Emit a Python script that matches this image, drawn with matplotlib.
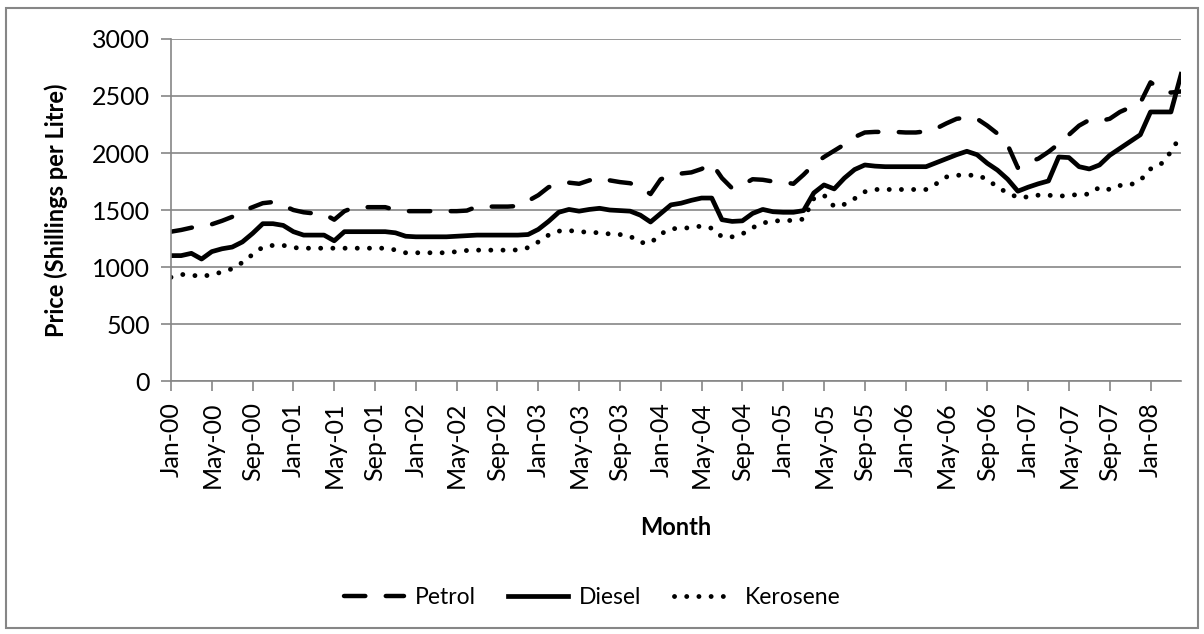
import matplotlib

matplotlib.use("Agg")

import matplotlib.pyplot as plt
import numpy as np
import pandas as pd
from matplotlib.patches import Rectangle

plt.rcParams["font.family"] = ["Lato", "DejaVu Sans"]

# monthly prices, Jan-00 .. Apr-08 (Shillings per litre)
months = pd.date_range("2000-01-01", periods=100, freq="MS").strftime("%b-%y").tolist()

petrol = [
    1310, 1325, 1345, 1360, 1375, 1405, 1440, 1490, 1525, 1560,
    1570, 1540, 1500, 1480, 1470, 1465, 1415, 1490, 1525, 1525,
    1525, 1525, 1500, 1490, 1490, 1490, 1490, 1490, 1490, 1495,
    1530, 1530, 1530, 1530, 1535, 1580, 1630, 1700, 1730, 1740,
    1730, 1760, 1780, 1760, 1745, 1735, 1700, 1640, 1770, 1800,
    1820, 1830, 1860, 1910, 1780, 1690, 1720, 1770, 1765, 1750,
    1745, 1730, 1810, 1900, 1965, 2020, 2075, 2140, 2180, 2185,
    2185, 2185, 2180, 2180, 2190, 2215, 2260, 2300, 2310, 2300,
    2240, 2170, 2070, 1870, 1920, 1950, 2010, 2080, 2160, 2240,
    2290, 2280, 2300, 2360, 2400, 2440, 2620, 2560, 2530, 2540,
]

diesel = [
    1100, 1100, 1120, 1070, 1135, 1160, 1175, 1220, 1295, 1380,
    1380, 1365, 1310, 1280, 1280, 1280, 1230, 1310, 1310, 1310,
    1310, 1310, 1300, 1270, 1265, 1265, 1265, 1265, 1270, 1275,
    1280, 1280, 1280, 1280, 1280, 1285, 1330, 1400, 1480, 1505,
    1490, 1505, 1515, 1500, 1495, 1490, 1455, 1395, 1470, 1545,
    1560, 1585, 1605, 1605, 1415, 1400, 1405, 1470, 1505, 1485,
    1480, 1480, 1495, 1650, 1720, 1685, 1780, 1855, 1895, 1885,
    1880, 1880, 1880, 1880, 1880, 1915, 1950, 1985, 2015, 1985,
    1910, 1850, 1770, 1665, 1700, 1730, 1755, 1965, 1960, 1880,
    1860, 1895, 1980, 2040, 2100, 2160, 2360, 2360, 2360, 2690,
]

kerosene = [
    910, 935, 930, 915, 935, 955, 985, 1040, 1110, 1175,
    1190, 1190, 1170, 1165, 1165, 1165, 1165, 1165, 1165, 1165,
    1165, 1165, 1150, 1125, 1125, 1125, 1125, 1125, 1135, 1145,
    1148, 1148, 1148, 1148, 1150, 1170, 1220, 1280, 1315, 1320,
    1310, 1305, 1300, 1290, 1285, 1270, 1215, 1210, 1290, 1335,
    1340, 1345, 1360, 1340, 1265, 1265, 1290, 1345, 1385, 1405,
    1405, 1410, 1420, 1600, 1630, 1530, 1550, 1600, 1660, 1680,
    1680, 1680, 1680, 1680, 1680, 1730, 1790, 1805, 1805, 1805,
    1770, 1700, 1650, 1610, 1615, 1630, 1630, 1620, 1630, 1635,
    1640, 1700, 1680, 1715, 1720, 1760, 1860, 1900, 2010, 2160,
]

GRID = "#868686"
FS = 18

fig = plt.figure(figsize=(12.04, 6.34), dpi=100)
ax = fig.add_axes([0.142, 0.399, 0.839, 0.5395])

x = np.arange(len(months))
ax.plot(x, petrol, color="black", lw=3.2, ls=(0, (4.8, 4.6)),
        dash_capstyle="round", label="Petrol")
ax.plot(x, diesel, color="black", lw=3.4, solid_joinstyle="round", label="Diesel")
ax.plot(x, kerosene, color="black", lw=3.5, ls=(0, (0.01, 2.5)),
        dash_capstyle="round", label="Kerosene")

ax.set_xlim(0, len(months) - 1)
ax.set_ylim(0, 3000)
ax.set_yticks(range(0, 3001, 500))
ax.set_xticks(x[::4])
ax.set_xticklabels(months[::4], rotation=90)
ax.tick_params(axis="both", colors=GRID, labelcolor="black", labelsize=FS,
               length=7, width=1.2, direction="out")
ax.tick_params(axis="y", pad=8)
ax.tick_params(axis="x", pad=8)

ax.grid(axis="y", color=GRID, lw=1.2)
ax.set_axisbelow(True)
for side in ("top", "right"):
    ax.spines[side].set_visible(False)
for side in ("left", "bottom"):
    ax.spines[side].set_color(GRID)
    ax.spines[side].set_linewidth(1.2)

ax.set_xlabel("Month", fontsize=17, fontweight="bold")
ax.xaxis.set_label_coords(0.5, -0.395)
ax.set_ylabel("Price (Shillings per Litre)", fontsize=17, fontweight="bold")
ax.yaxis.set_label_coords(-0.102, 0.5)

fig.legend(loc="center", bbox_to_anchor=(0.492, 0.058), ncol=3, frameon=False,
           fontsize=16.5, handlelength=2.6, columnspacing=1.4, handletextpad=0.5)

fig.patches.append(Rectangle((0.005, 0.009), 0.99, 0.979, transform=fig.transFigure,
                             fill=False, edgecolor=GRID, lw=1.5))

fig.savefig("out.png", dpi=100)
